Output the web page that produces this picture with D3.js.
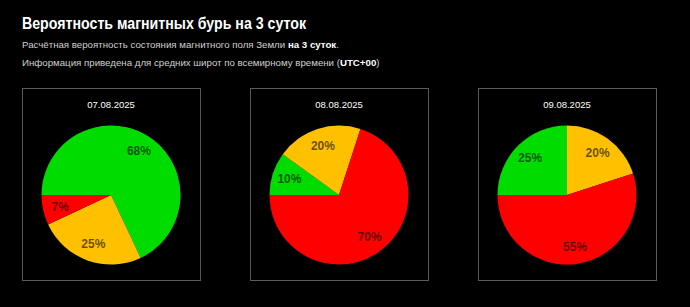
<!DOCTYPE html>
<html>
<head>
<meta charset="utf-8">
<script src="https://cdn.jsdelivr.net/npm/d3@7"></script>
<style>
    body { margin: 0; background: #000; }
    svg { display: block; font-family: "Liberation Sans", Arial, sans-serif; }
</style>
</head>
<body>
<div id="chart"></div>
<script>
// data
let dates = ["07.08.2025", "08.08.2025", "09.08.2025"];
let green = [68, 10, 25];
let yellow = [25, 20, 20];
let red = [7, 70, 55];
let colors = ["#00dc00", "#ffc000", "#ff0000"];

let w = 690, h = 307;

let svg = d3.select("#chart")
    .append("svg")
    .attr("width", w)
    .attr("height", h);

svg.append("rect")
    .attr("width", w)
    .attr("height", h)
    .attr("fill", "#000");

// header
svg.append("text")
    .attr("x", 22)
    .attr("y", 29)
    .attr("fill", "#fff")
    .attr("font-size", 16)
    .attr("font-weight", "bold")
    .attr("textLength", 284)
    .attr("lengthAdjust", "spacingAndGlyphs")
    .text("Вероятность магнитных бурь на 3 суток");

let sub1 = svg.append("text")
    .attr("x", 22)
    .attr("y", 48)
    .attr("fill", "#d0d0d0")
    .attr("font-size", 9.7);
sub1.append("tspan").text("Расчётная вероятность состояния магнитного поля Земли ");
sub1.append("tspan").attr("font-weight", "bold").attr("fill", "#fff").text("на 3 суток");
sub1.append("tspan").text(".");

let sub2 = svg.append("text")
    .attr("x", 22)
    .attr("y", 66)
    .attr("fill", "#d0d0d0")
    .attr("font-size", 9.7);
sub2.append("tspan").text("Информация приведена для средних широт по всемирному времени (");
sub2.append("tspan").attr("font-weight", "bold").attr("fill", "#fff").text("UTC+00");
sub2.append("tspan").text(")");

// panels
let xScale = d3.scaleBand()
    .domain(dates)
    .range([22, 656])
    .paddingInner(0.219);

let boxTop = 88, boxH = 192;
let r = 69.5;

let pie = d3.pie()
    .sort(null)
    .startAngle(-Math.PI / 2)
    .endAngle(1.5 * Math.PI);

let arc = d3.arc().innerRadius(0).outerRadius(r);
let labelArc = d3.arc().innerRadius(r * 0.75).outerRadius(r * 0.75);

let panelData = dates.map((d, i) => ({date: d, values: [green[i], yellow[i], red[i]]}));

let panels = svg.selectAll("g.panel")
    .data(panelData)
    .enter()
    .append("g")
    .attr("class", "panel")
    .attr("transform", d => "translate(" + xScale(d.date) + "," + boxTop + ")");

panels.append("rect")
    .attr("x", 0.5)
    .attr("y", 0.5)
    .attr("width", xScale.bandwidth())
    .attr("height", boxH)
    .attr("fill", "none")
    .attr("stroke", "#5a5a5a")
    .attr("stroke-width", 1);

panels.append("text")
    .attr("x", xScale.bandwidth() / 2)
    .attr("y", 20)
    .attr("text-anchor", "middle")
    .attr("fill", "#fff")
    .attr("font-size", 9.5)
    .text(d => d.date);

let pies = panels.append("g")
    .attr("transform", "translate(" + (xScale.bandwidth() / 2) + ",107)");

pies.selectAll("path")
    .data(d => pie(d.values))
    .enter()
    .append("path")
    .attr("d", arc)
    .attr("fill", (d, i) => colors[i]);

pies.selectAll("text")
    .data(d => pie(d.values))
    .enter()
    .append("text")
    .attr("transform", d => "translate(" + labelArc.centroid(d) + ")")
    .attr("text-anchor", "middle")
    .attr("dy", "0.35em")
    .attr("font-size", 12)
    .attr("font-weight", "bold")
    .attr("fill", "#000")
    .attr("fill-opacity", 0.62)
    .text(d => d.data + "%");
</script>
</body>
</html>
